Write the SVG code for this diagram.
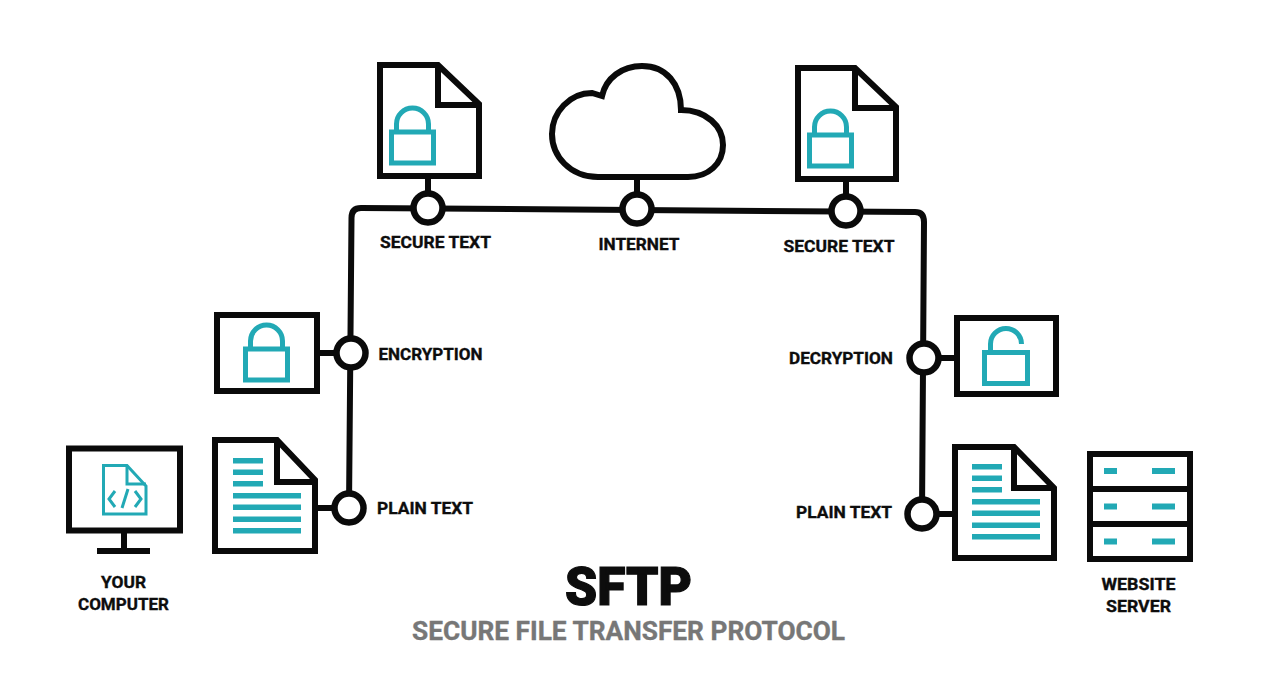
<svg xmlns="http://www.w3.org/2000/svg" width="1280" height="687" viewBox="0 0 1280 687">
<defs>
<style>
.k{fill:#fff;stroke:#0a0a0a;stroke-width:6;stroke-linejoin:miter}
.n{fill:none;stroke:#0a0a0a;stroke-width:6}
.c{fill:#fff;stroke:#0a0a0a;stroke-width:6.500}
.t{fill:none;stroke:#22a9b5;stroke-width:5}
.i{fill:none;stroke:#22a9b5;stroke-width:3}
.b{fill:#22a9b5}
text{font-family:"Roboto","Liberation Sans",sans-serif;font-weight:700;fill:#0d0d0d;stroke:#0d0d0d;stroke-width:.35;font-size:17px;text-anchor:middle}
</style>
<g id="lock"><rect class="t" x="2.500" y="24" width="42" height="31"/><path class="t" d="M7.500 24V16A16 16 0 0 1 39.500 16V24"/></g>
<g id="lines"><path class="b" d="M0 0h30v5.500H0zM0 11.500h30v5.500H0zM0 23h30v5.500H0zM0 35h68v5.500H0zM0 46.500h68v5.500H0zM0 58.500h68v5.500H0zM0 70h68v5.500H0z"/></g>
</defs>
<rect width="1280" height="687" fill="#fff"/>
<g id="connectors">
<path class="n" d="M349 508L351.500 218Q351.500 208 361 208L915 212Q924 212 924 222L922 514"/>
<path class="n" d="M318 353H336M318 508H334M428 179V194M637 178V194M846 182V197M938 358H956M938 514H954"/>
</g>
<g id="computer">
<rect class="k" x="69" y="448.500" width="111" height="82"/>
<path class="n" d="M124 532V550"/><path class="n" d="M97 551H150"/>
<path class="i" d="M103.500 465.500H127L146 486V514H103.500Z"/>
<path class="i" d="M127 465.500V484H146"/>
<path class="i" d="M115 491L109 499L115 507M135 491L141 499L135 507M128 489L122 508"/>
</g>
<g id="encryption-box"><rect class="k" x="217" y="315" width="100" height="76"/><use href="#lock" x="243" y="325"/></g>
<g id="plain-doc-left"><path class="k" d="M215 440H277L315 480V551H215Z"/><path class="n" d="M277 440V482H315"/><use href="#lines" x="233" y="458"/></g>
<g id="secure-doc-left"><path class="k" d="M380 65H438L479 104V176H380Z"/><path class="n" d="M438 65V105H479"/><use href="#lock" x="389" y="108"/></g>
<g id="cloud"><path class="k" d="M598 177C570 177 552 156 552 134C552 112 570 93 592 93L602 96C606 78 622 66 642 66C666 66 681 84 681 110C706 110 723 126 723 145C723 164 708 177 688 177Z"/></g>
<g id="secure-doc-right"><path class="k" d="M798 68H855L896 107V179H798Z"/><path class="n" d="M855 68V108H896"/><use href="#lock" x="807" y="111"/></g>
<g id="decryption-box"><rect class="k" x="957" y="318" width="99" height="76"/><rect class="t" x="984.500" y="352.500" width="43" height="31"/><path class="t" d="M990.500 352V344A15.500 15.500 0 0 1 1021.500 344"/></g>
<g id="plain-doc-right"><path class="k" d="M955 447H1014L1054 488V558H955Z"/><path class="n" d="M1014 447V488H1054"/><use href="#lines" x="972" y="464"/></g>
<g id="server">
<rect class="k" x="1090" y="454" width="100" height="105"/>
<path class="n" d="M1090 489H1190M1090 524H1190"/>
<path class="b" d="M1104 468h13v6h-13zM1152 468h23v6h-23zM1104 503.500h13v6h-13zM1152 503.500h23v6h-23zM1104 538.500h13v6h-13zM1152 538.500h23v6h-23z"/>
</g>
<g id="node-secure-left"><circle class="c" cx="428" cy="208" r="14.500"/></g>
<g id="node-internet"><circle class="c" cx="637" cy="209" r="14.500"/></g>
<g id="node-secure-right"><circle class="c" cx="846" cy="211" r="14.500"/></g>
<g id="node-encryption"><circle class="c" cx="351" cy="353" r="14.500"/></g>
<g id="node-plain-left"><circle class="c" cx="349" cy="508" r="14.500"/></g>
<g id="node-decryption"><circle class="c" cx="924" cy="358" r="14.500"/></g>
<g id="node-plain-right"><circle class="c" cx="922" cy="514" r="14.500"/></g>
<g id="labels">
<text x="435.500" y="248" textLength="111" lengthAdjust="spacingAndGlyphs">SECURE TEXT</text>
<text x="639" y="250" textLength="81" lengthAdjust="spacingAndGlyphs">INTERNET</text>
<text x="839" y="252" textLength="111" lengthAdjust="spacingAndGlyphs">SECURE TEXT</text>
<text x="430.500" y="360" textLength="104" lengthAdjust="spacingAndGlyphs">ENCRYPTION</text>
<text x="841" y="364" textLength="104" lengthAdjust="spacingAndGlyphs">DECRYPTION</text>
<text x="425" y="514" textLength="96" lengthAdjust="spacingAndGlyphs">PLAIN TEXT</text>
<text x="844" y="518" textLength="96" lengthAdjust="spacingAndGlyphs">PLAIN TEXT</text>
<text x="123.500" y="588" textLength="45" lengthAdjust="spacingAndGlyphs">YOUR</text>
<text x="123.500" y="610" textLength="91" lengthAdjust="spacingAndGlyphs">COMPUTER</text>
<text x="1138.500" y="590" textLength="74" lengthAdjust="spacingAndGlyphs">WEBSITE</text>
<text x="1138.500" y="612" textLength="65" lengthAdjust="spacingAndGlyphs">SERVER</text>
<text x="628.500" y="605" style="font-size:54px;font-weight:900;stroke-width:1.200" textLength="127" lengthAdjust="spacingAndGlyphs">SFTP</text>
<text x="628.500" y="640" style="font-size:25px;fill:#777;stroke:#777" textLength="433" lengthAdjust="spacingAndGlyphs">SECURE FILE TRANSFER PROTOCOL</text>
</g>
</svg>
